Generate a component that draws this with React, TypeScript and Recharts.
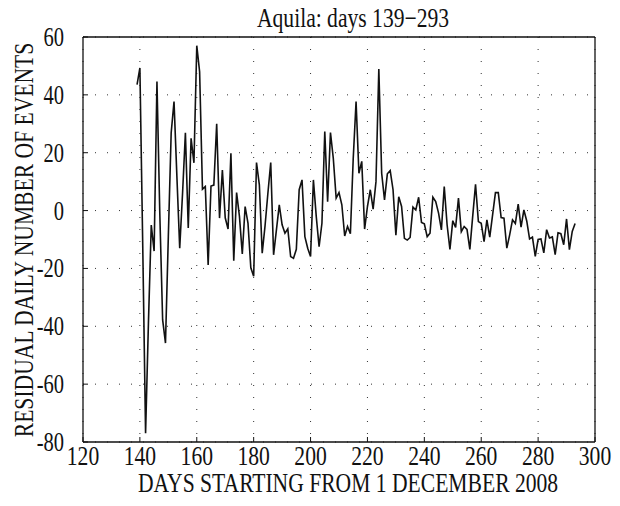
import React from "react";
import { LineChart, Line, XAxis, YAxis, CartesianGrid } from "recharts";

// day numbers (days since 1 December 2008)
const days = [
  139, 140, 141, 142, 143, 144, 145, 146, 147, 148, 149, 150, 151, 152, 153, 154, 155, 156, 157, 158,
  159, 160, 161, 162, 163, 164, 165, 166, 167, 168, 169, 170, 171, 172, 173, 174, 175, 176, 177, 178,
  179, 180, 181, 182, 183, 184, 185, 186, 187, 188, 189, 190, 191, 192, 193, 194, 195, 196, 197, 198,
  199, 200, 201, 202, 203, 204, 205, 206, 207, 208, 209, 210, 211, 212, 213, 214, 215, 216, 217, 218,
  219, 220, 221, 222, 223, 224, 225, 226, 227, 228, 229, 230, 231, 232, 233, 234, 235, 236, 237, 238,
  239, 240, 241, 242, 243, 244, 245, 246, 247, 248, 249, 250, 251, 252, 253, 254, 255, 256, 257, 258,
  259, 260, 261, 262, 263, 264, 265, 266, 267, 268, 269, 270, 271, 272, 273, 274, 275, 276, 277, 278,
  279, 280, 281, 282, 283, 284, 285, 286, 287, 288, 289, 290, 291, 292, 293,
];

// residual daily number of events, one per day above
const residuals = [
  43.5, 49.3, -12, -77, -39, -5, -14, 44.6, -1, -37.8, -45.8, -9, 26.9, 37.7, 12, -13, 6, 26.9, -6, 25,
  16.5, 57, 48, 7.4, 8.3, -18.8, 8.5, 8.8, 30, -2.6, 14, -2.5, -6.4, 19.8, -17.3, 6.2, -2, -15, 1.4, -4.3,
  -19.8, -22.7, 16.6, 8.9, -14.7, -5.3, 6, 16.6, -15.3, -6.7, 2, -4.9, -7.8, -6.3, -15.9, -16.5, -13.4, 7.2, 10.6, -9,
  -13, -15.9, 10.6, -2, -12.5, -4.4, 27.3, 3.1, 27, 18, 4.3, 6.2, 2, -8.8, -5.5, -8, 18, 37.7, 12.9, 17,
  -6.4, 1.4, 7.2, 0.5, 10, 48.9, 12.9, 3.7, 12.7, 13.8, 7.2, -8.5, 4.8, 1.4, -9.6, -10.2, -9.3, 1.2, 0.2, 4.6,
  -4.1, -4.6, -9, -7.8, 4.6, 3.1, -0.9, -6.7, 8.3, -4.9, -13.4, -3.5, -5.8, 4.3, -7.3, -5.5, -6.5, -13.4, -2, 9.1,
  -3.8, -4.4, -10.7, -3.2, -9.2, -1.5, 6.2, 6.2, -2.4, -2.6, -13, -8.4, -3.2, -4.5, 2.2, -5.7, 0.2, -3.6, -9.8, -9.2,
  -15.8, -10, -9.8, -14.6, -6.6, -9.5, -9.1, -15.2, -7.7, -8, -11.8, -2.9, -13.5, -7.2, -4.5,
];

const xTicks = [120, 140, 160, 180, 200, 220, 240, 260, 280, 300];
const yTicks = [-80, -60, -40, -20, 0, 20, 40, 60];

const title = "Aquila: days 139\u2212293";
const xLabel = "DAYS STARTING FROM 1 DECEMBER 2008";
const yLabel = "RESIDUAL DAILY NUMBER OF EVENTS";

const data = days.map((d, i) => ({ day: d, value: residuals[i] }));

const FONT = "'Liberation Serif', 'Times New Roman', serif";
const FS = 27;
const SX = 0.8;

// condensed serif text, drawn at (x, y) with the given anchor
const Txt = ({ x, y, anchor = "middle", rotate = 0, sx = SX, children }: any) => (
  <text
    transform={`translate(${x},${y}) rotate(${rotate}) scale(${sx},1)`}
    textAnchor={anchor}
    fontFamily={FONT}
    fontSize={FS}
    fill="#111"
  >
    {children}
  </text>
);

const XTick = ({ x, payload }: any) => (
  <Txt x={x} y={465}>{payload.value}</Txt>
);

const YTick = ({ y, payload }: any) => (
  <Txt x={64} y={y + 9} anchor="end" sx={0.76}>{payload.value}</Txt>
);

const box = { stroke: "#111", strokeWidth: 1.3 };

export default function App() {
  return (
    <div style={{ position: "absolute", left: 0, top: 0, width: 620, height: 506, background: "#fff" }}>
      <LineChart width={620} height={506} data={data} margin={{ top: 36, right: 24, left: 0, bottom: 0 }}>
        <CartesianGrid stroke="#333" strokeDasharray="1 11" strokeWidth={1} />
        <XAxis
          dataKey="day"
          type="number"
          domain={[120, 300]}
          ticks={xTicks}
          height={64}
          tickSize={-5}
          tickMargin={0}
          axisLine={box}
          tickLine={{ stroke: "#111" }}
          tick={<XTick />}
          interval={0}
          label={{ content: () => <Txt x={348} y={492}>{xLabel}</Txt> }}
        />
        <XAxis
          xAxisId="top"
          dataKey="day"
          orientation="top"
          type="number"
          domain={[120, 300]}
          ticks={xTicks}
          height={1}
          tickSize={-5}
          axisLine={box}
          tickLine={{ stroke: "#111" }}
          tick={false}
          interval={0}
          label={{ content: () => <Txt x={353} y={27}>{title}</Txt> }}
        />
        <YAxis
          type="number"
          domain={[-80, 60]}
          ticks={yTicks}
          width={83}
          tickSize={-5}
          tickMargin={0}
          axisLine={box}
          tickLine={{ stroke: "#111" }}
          tick={<YTick />}
          interval={0}
          label={{ content: () => <Txt x={33} y={240} rotate={-90}>{yLabel}</Txt> }}
        />
        <YAxis
          yAxisId="right"
          orientation="right"
          type="number"
          domain={[-80, 60]}
          ticks={yTicks}
          width={1}
          tickSize={-5}
          axisLine={box}
          tickLine={{ stroke: "#111" }}
          tick={false}
          interval={0}
        />
        {/* invisible copy so the top and right axes (the box) are drawn */}
        <Line
          xAxisId="top"
          yAxisId="right"
          type="linear"
          dataKey="value"
          stroke="none"
          dot={false}
          activeDot={false}
          isAnimationActive={false}
        />
        <Line
          type="linear"
          dataKey="value"
          stroke="#111"
          strokeWidth={1.6}
          dot={false}
          isAnimationActive={false}
        />
      </LineChart>
    </div>
  );
}
